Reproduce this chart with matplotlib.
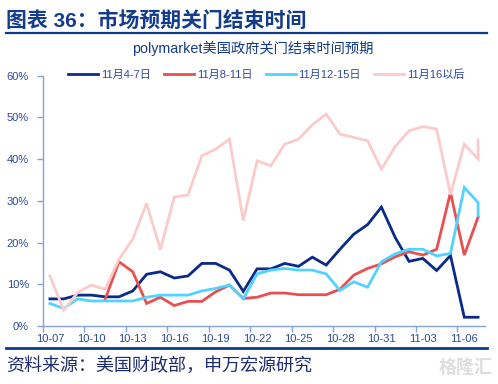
import matplotlib
matplotlib.use("Agg")
import matplotlib.pyplot as plt
import matplotlib.dates as mdates
from matplotlib.ticker import FuncFormatter, FixedLocator
import pandas as pd
import numpy as np

plt.rcParams['font.family'] = ['Liberation Sans', 'Noto Sans CJK SC']

# dates (the last day has two readings)
dates = ["10-07", "10-08", "10-09", "10-10", "10-11", "10-12", "10-13", "10-14",
         "10-15", "10-16", "10-17", "10-18", "10-19", "10-20", "10-21", "10-22",
         "10-23", "10-24", "10-25", "10-26", "10-27", "10-28", "10-29", "10-30",
         "10-31", "11-01", "11-02", "11-03", "11-04", "11-05", "11-06", "11-07",
         "11-07"]

nov4_7 = [6.5, 6.5, 7.4, 7.4, 7.0, 7.0, 8.4, 12.4, 13.0, 11.5, 12.0, 15.0, 15.0, 13.4,
          8.3, 13.7, 13.7, 15.0, 14.3, 16.5, 14.6, 18.4, 22.0, 24.3, 28.5, 21.2, 15.5,
          16.2, 13.3, 16.9, 2.1, 2.1, 2.1]
nov8_11 = [None, None, None, None, 6.4, 15.4, 13.0, 5.4, 6.9, 4.9, 5.9, 5.9, 8.2, 9.8,
           6.6, 6.9, 7.9, 7.9, 7.5, 7.5, 7.5, 8.8, 12.2, 13.8, 14.9, 16.6, 17.8,
           17.0, 18.4, 32.0, 17.0, 26.1, 26.1]
nov12_15 = [5.4, 4.2, 6.5, 6.0, 6.0, 6.0, 6.0, 6.9, 7.4, 7.4, 7.4, 8.4, 9.0, 9.8,
            6.5, 12.5, 13.4, 13.8, 13.4, 13.4, 12.5, 8.5, 10.6, 9.3, 15.4, 17.3, 18.4,
            18.4, 16.8, 17.4, 33.2, 29.6, 26.5]
nov16_after = [12.0, 3.8, 8.0, 9.8, 8.8, 16.0, 20.8, 29.4, 18.3, 30.9, 31.4, 40.8, 42.4,
               44.8, 25.3, 39.6, 38.4, 43.6, 44.8, 48.2, 50.8, 46.0, 45.2, 44.4, 37.6,
               43.0, 46.8, 47.8, 47.2, 31.5, 43.6, 40.0, 44.6]

labels = ["11月4-7日", "11月8-11日", "11月12-15日", "11月16以后"]
colors = ["#0A2A8A", "#E8504F", "#52D3FF", "#FBCBCB"]
tick_dates = ["10-07", "10-10", "10-13", "10-16", "10-19", "10-22", "10-25",
              "10-28", "10-31", "11-03", "11-06"]

x = mdates.date2num(pd.to_datetime(["2025-" + d for d in dates]))
xt = mdates.date2num(pd.to_datetime(["2025-" + d for d in tick_dates]))

navy = "#143C8C"
tickc = "#2A48A0"
spinec = "#86A2DA"

fig = plt.figure(figsize=(4.98, 3.84), dpi=100)
ax = fig.add_axes([43 / 498, 1 - 326 / 384, 442 / 498, (326 - 75.7) / 384])

series = [nov4_7, nov8_11, nov12_15, nov16_after]
for vals, lab, c in zip(series, labels, colors):
    y = np.array([np.nan if v is None else v / 100 for v in vals])
    ax.plot(x, y, color=c, lw=2.0, label=lab, solid_joinstyle='miter')

ax.set_ylim(0, 0.6)
ax.set_yticks(np.arange(0, 0.61, 0.1))
ax.yaxis.set_major_formatter(FuncFormatter(lambda v, p: f"{v * 100:.0f}%"))
ax.set_xlim(x[0] - 0.5, x[-1] + 0.5)
ax.xaxis.set_major_locator(FixedLocator(xt))
ax.set_xticklabels(tick_dates)
ax.xaxis.set_minor_locator(FixedLocator(xt - 0.5))

for s in ["top", "right"]:
    ax.spines[s].set_visible(False)
for s in ["left", "bottom"]:
    ax.spines[s].set_color(spinec)
    ax.spines[s].set_linewidth(1.0)

ax.tick_params(axis='y', colors=spinec, labelcolor=tickc, labelsize=8, length=4,
               width=1, direction='out', pad=6)
ax.tick_params(axis='x', which='major', length=0, labelcolor=tickc, labelsize=8, pad=6)
ax.tick_params(axis='x', which='minor', length=4, width=1, colors=spinec, direction='out')

leg = fig.legend(loc='center left', bbox_to_anchor=(68 / 498, 1 - 75 / 384), ncol=4,
                 frameon=False, fontsize=8, handlelength=2.7, handletextpad=0.25,
                 columnspacing=1.2, borderpad=0, borderaxespad=0)
for t in leg.get_texts():
    t.set_color(tickc)

# title, subtitle, source
fig.text(6 / 498, 1 - 21 / 384, "图表 36：市场预期关门结束时间", fontsize=15,
         fontweight='bold', color=navy, va='center', ha='left')
fig.add_artist(plt.Line2D([6 / 498, 487 / 498], [1 - 33 / 384, 1 - 33 / 384],
                          color="#0E3A8E", lw=1.6))
fig.text(253 / 498, 1 - 48 / 384, "polymarket美国政府关门结束时间预期", fontsize=10.3,
         color=navy, va='center', ha='center')
fig.add_artist(plt.Line2D([6 / 498, 487 / 498], [1 - 348 / 384, 1 - 348 / 384],
                          color="#0E3A8E", lw=2.0))
fig.text(6 / 498, 1 - 366 / 384, "资料来源：美国财政部，申万宏源研究", fontsize=13,
         color="#1C2C6E", va='center', ha='left')
fig.text(493 / 498, 1 - 368 / 384, "格隆汇", fontsize=13, color="#DEDEDE",
         va='center', ha='right', fontweight='bold')

fig.savefig("out.png", dpi=100)
